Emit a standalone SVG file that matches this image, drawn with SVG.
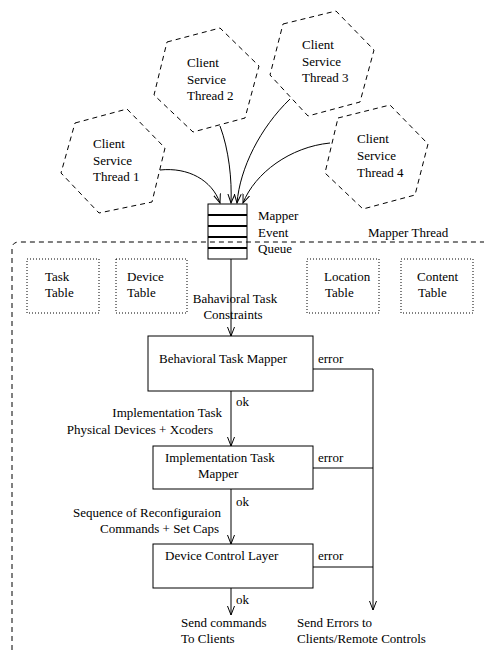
<svg xmlns="http://www.w3.org/2000/svg" width="484" height="650" viewBox="0 0 484 650">
<defs>
<style>
text{font-family:"Liberation Serif","Times New Roman",serif;font-size:13px;fill:#000}
.hex{fill:none;stroke:#000;stroke-width:1;stroke-dasharray:5,4}
.tbl{fill:none;stroke:#000;stroke-width:1;stroke-dasharray:1,2}
.box{fill:#fff;stroke:#000;stroke-width:1}
.qbox{fill:none;stroke:#000;stroke-width:1}
.ln{fill:none;stroke:#000;stroke-width:1}
.qln{stroke:#000;stroke-width:2}
.reg{fill:none;stroke:#000;stroke-width:1;stroke-dasharray:5,4}
.m{text-anchor:middle}
.e{text-anchor:end}
</style>
<marker id="arr" markerWidth="10" markerHeight="8" refX="9" refY="4" orient="auto" markerUnits="userSpaceOnUse">
<path d="M0,0.5 L9,4 L0,7.5" fill="none" stroke="#000" stroke-width="1"/>
</marker>
</defs>
<rect width="484" height="650" fill="#fff"/>
<g id="mapper-thread-region">
<path class="reg" d="M12,650 L12,249 Q12,242 19,242 L484,242"/>
<text x="368" y="237">Mapper Thread</text>
</g>
<g id="thread1">
<polygon class="hex" points="75,123 127,109 165,148 152,202 99,213 61,173"/>
<text x="93" y="148">Client</text><text x="93" y="165">Service</text><text x="93" y="181">Thread 1</text>
</g>
<g id="thread2">
<polygon class="hex" points="167,42 220,28 259,66 245,118 193,132 154,95"/>
<text x="187" y="67">Client</text><text x="187" y="84">Service</text><text x="187" y="100">Thread 2</text>
</g>
<g id="thread3">
<polygon class="hex" points="283,24 336,11 374,50 360,102 308,116 270,75"/>
<text x="302" y="49">Client</text><text x="302" y="66">Service</text><text x="302" y="82">Thread 3</text>
</g>
<g id="thread4">
<polygon class="hex" points="338,118 390,105 428,144 415,195 363,209 325,173"/>
<text x="357" y="143">Client</text><text x="357" y="160">Service</text><text x="357" y="177">Thread 4</text>
</g>
<g id="queue">
<rect class="qbox" x="208" y="204" width="39" height="55"/>
<line class="qln" x1="208" y1="215" x2="247" y2="215"/>
<line class="qln" x1="208" y1="226" x2="247" y2="226"/>
<line class="qln" x1="208" y1="237" x2="247" y2="237"/>
<line class="qln" x1="208" y1="248" x2="247" y2="248"/>
<text x="258" y="220">Mapper</text><text x="258" y="237">Event</text><text x="258" y="253">Queue</text>
</g>
<g id="task-table"><rect class="tbl" x="27" y="259" width="72" height="54"/><text x="45" y="281">Task</text><text x="45" y="297">Table</text></g>
<g id="device-table"><rect class="tbl" x="116" y="259" width="71" height="54"/><text x="127" y="281">Device</text><text x="127" y="297">Table</text></g>
<g id="location-table"><rect class="tbl" x="307" y="259" width="72" height="54"/><text x="324" y="281">Location</text><text x="325" y="297">Table</text></g>
<g id="content-table"><rect class="tbl" x="401" y="259" width="72" height="54"/><text x="417" y="281">Content</text><text x="418" y="297">Table</text></g>
<g id="btm"><rect class="box" x="148" y="336" width="165" height="55"/><text x="159" y="363">Behavioral Task Mapper</text></g>
<g id="itm"><rect class="box" x="153" y="446" width="160" height="43"/><text x="165" y="462">Implementation Task</text><text x="198" y="478">Mapper</text></g>
<g id="dcl"><rect class="box" x="153" y="544" width="160" height="44"/><text x="165" y="560">Device Control Layer</text></g>
<g id="connectors">
<path class="ln" d="M160,170 C188,167 212,180 220,203" marker-end="url(#arr)"/>
<path class="ln" d="M220,126 C229,150 232,180 231,203" marker-end="url(#arr)"/>
<path class="ln" d="M290,99 C260,128 240,168 237,203" marker-end="url(#arr)"/>
<path class="ln" d="M330,143 C290,147 255,173 243,203" marker-end="url(#arr)"/>
<line class="ln" x1="231" y1="259" x2="231" y2="336" marker-end="url(#arr)"/>
<line class="ln" x1="231" y1="391" x2="231" y2="446" marker-end="url(#arr)"/>
<line class="ln" x1="231" y1="489" x2="231" y2="544" marker-end="url(#arr)"/>
<line class="ln" x1="231" y1="588" x2="231" y2="615" marker-end="url(#arr)"/>
<polyline class="ln" points="313,369 373,369 373,610" marker-end="url(#arr)"/>
<line class="ln" x1="313" y1="468" x2="373" y2="468"/>
<line class="ln" x1="313" y1="567" x2="373" y2="567"/>
<text class="m" x="235" y="303">Bahavioral Task</text>
<text class="m" x="233" y="319">Constraints</text>
<text x="318" y="363">error</text>
<text x="318" y="462">error</text>
<text x="318" y="560">error</text>
<text x="236" y="406">ok</text>
<text class="e" x="222" y="417">Implementation Task</text>
<text class="e" x="213" y="434">Physical Devices + Xcoders</text>
<text x="236" y="506">ok</text>
<text class="e" x="221" y="517">Sequence of Reconfiguraion</text>
<text class="e" x="219" y="533">Commands + Set Caps</text>
<text x="236" y="604">ok</text>
<text x="181" y="627">Send commands</text>
<text x="181" y="643">To Clients</text>
<text x="297" y="627">Send Errors to</text>
<text x="297" y="643">Clients/Remote Controls</text>
</g>
</svg>
